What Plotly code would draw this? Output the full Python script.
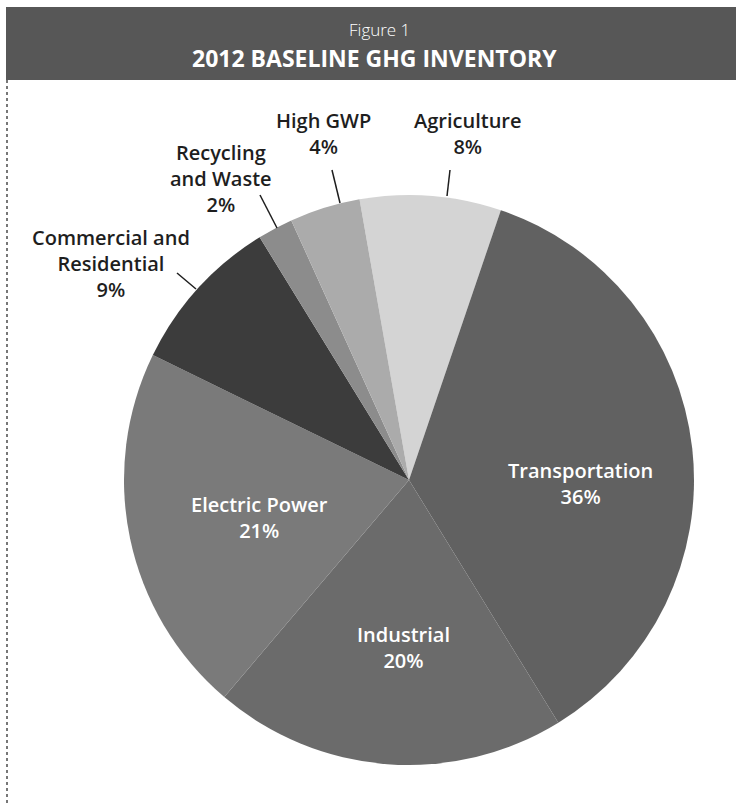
import plotly.graph_objects as go

# ---- data ----
categories = ["Agriculture", "Transportation", "Industrial", "Electric Power",
              "Commercial and Residential", "Recycling and Waste", "High GWP"]
values = [8, 36, 20, 21, 9, 2, 4]
label_lines = [["Agriculture"], ["Transportation"], ["Industrial"], ["Electric Power"],
               ["Commercial and", "Residential"], ["Recycling", "and Waste"], ["High GWP"]]
colors = ["#d4d4d4", "#616161", "#6b6b6b", "#7a7a7a", "#3c3c3c", "#8c8c8c", "#ababab"]
title_small = "Figure 1"
title_big = "2012 BASELINE GHG INVENTORY"

W, H = 736, 803
L, R, T, B = 124, 42, 195, 38
pw, ph = W - L - R, H - T - B

def px(x):
    return (x - L) / pw

def py(y):
    return 1 - (y - T) / ph

fig = go.Figure(go.Pie(
    labels=categories, values=values, sort=False, direction="clockwise",
    rotation=-10, textinfo="none", hoverinfo="label+percent",
    marker=dict(colors=colors, line=dict(width=0)),
    showlegend=False,
))

# label positions (pixel centers of the first text line), inside flags, leader lines
label_pos = [(468, 122), (580, 472), (403, 636), (259, 506), (111, 240), (221, 155), (323, 122)]
inside = [False, True, True, True, False, False, False]
leaders = {0: (450, 170, 447, 196), 4: (177, 273, 196, 289), 5: (260, 195, 277, 228), 6: (332, 170, 340, 203)}

annotations = []
shapes = []
lh = 23.5
for i, cat in enumerate(categories):
    lines = label_lines[i] + [f"{values[i]}%"]
    x, y = label_pos[i]
    yc = y + (len(lines) - 1) * lh / 2
    annotations.append(dict(
        x=px(x), y=py(yc), xref="paper", yref="paper",
        text="<br>".join(lines), showarrow=False, xanchor="center", yanchor="middle",
        align="center",
        font=dict(family="Open Sans", size=20, weight=600,
                  color="#ffffff" if inside[i] else "#1e1e1e"),
    ))
    if i in leaders:
        x0, y0, x1, y1 = leaders[i]
        shapes.append(dict(type="line", xref="paper", yref="paper",
                           x0=px(x0), y0=py(y0), x1=px(x1), y1=py(y1),
                           line=dict(color="#1e1e1e", width=1.5)))

# header band
shapes.insert(0, dict(type="rect", xref="paper", yref="paper",
                      x0=px(6), x1=px(736), y0=py(7), y1=py(80),
                      fillcolor="#575757", line=dict(width=0), layer="below"))
# left dotted border
shapes.append(dict(type="line", xref="paper", yref="paper",
                   x0=px(7), x1=px(7), y0=py(80), y1=py(803),
                   line=dict(color="#777777", width=2, dash="dot")))

annotations.append(dict(x=px(379), y=py(29), xref="paper", yref="paper",
                        text=title_small, showarrow=False, xanchor="center", yanchor="middle",
                        font=dict(family="Open Sans", size=17, weight=300, color="#ffffff")))
annotations.append(dict(x=px(374), y=py(58), xref="paper", yref="paper",
                        text=title_big, showarrow=False, xanchor="center", yanchor="middle",
                        font=dict(family="Open Sans", size=23, weight=700, color="#ffffff")))

fig.update_layout(
    width=W, height=H, margin=dict(l=L, r=R, t=T, b=B),
    paper_bgcolor="#ffffff", plot_bgcolor="#ffffff",
    annotations=annotations, shapes=shapes,
)
fig.write_html("out.html", config={"displayModeBar": False},
               post_script="document.body.style.margin='0';")
